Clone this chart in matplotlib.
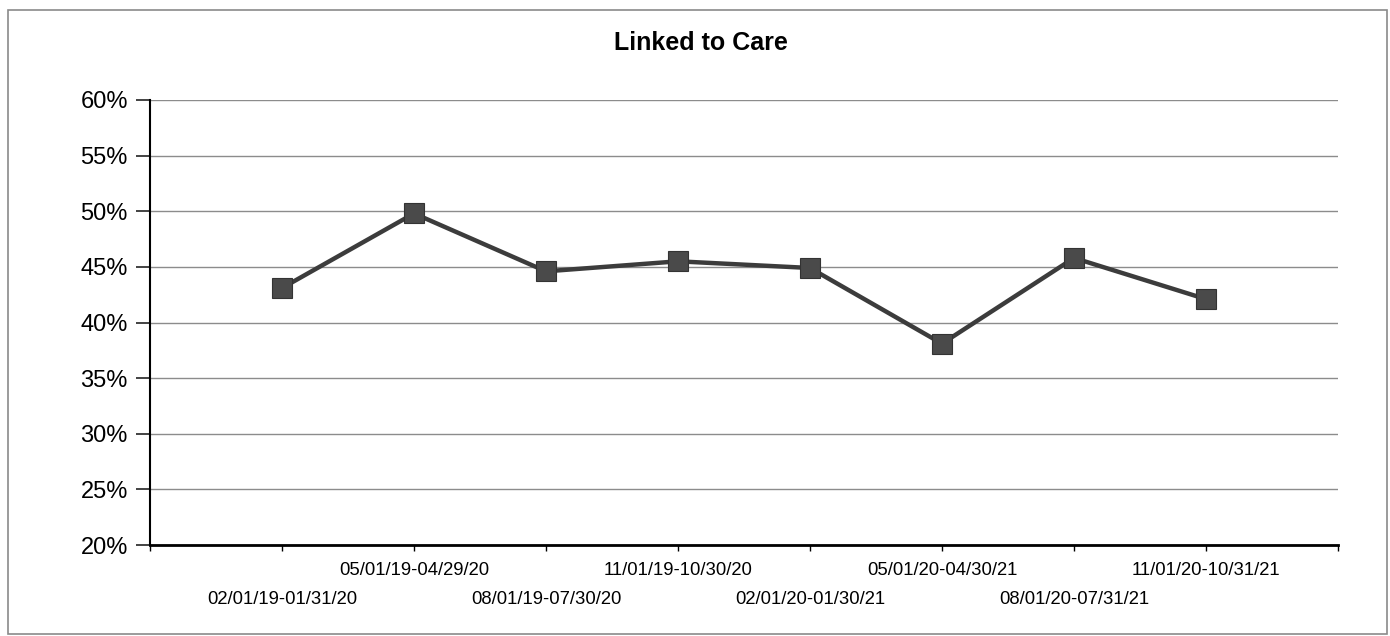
import matplotlib
matplotlib.use("Agg")
import matplotlib.pyplot as plt
from matplotlib.patches import Rectangle
from matplotlib.ticker import FixedLocator, FuncFormatter

plt.rcParams['font.family'] = ['Liberation Sans', 'DejaVu Sans']

title = "Linked to Care"
periods = ["02/01/19-01/31/20", "05/01/19-04/29/20", "08/01/19-07/30/20",
           "11/01/19-10/30/20", "02/01/20-01/30/21", "05/01/20-04/30/21",
           "08/01/20-07/31/21", "11/01/20-10/31/21"]
values = [43.1, 49.8, 44.6, 45.5, 44.9, 38.1, 45.8, 42.1]
y_ticks = [20, 25, 30, 35, 40, 45, 50, 55, 60]

fig = plt.figure(figsize=(13.9, 6.36), dpi=100)
ax = fig.add_axes([150/1390, 1-545/636, (1338-150)/1390, (545-100)/636])

x = list(range(1, len(periods) + 1))
ax.plot(x, values, color='#3c3c3c', lw=3.2, marker='s', markersize=14.5,
        markerfacecolor='#4a4a4a', markeredgecolor='#333333', markeredgewidth=0.8,
        zorder=3)

ax.set_xlim(0, len(periods) + 1)
ax.set_ylim(y_ticks[0], y_ticks[-1])
ax.set_yticks(y_ticks)
ax.yaxis.set_major_formatter(FuncFormatter(lambda v, p: f"{v:.0f}%"))
ax.grid(axis='y', color='#8c8c8c', lw=1.0, zorder=0)
ax.set_axisbelow(True)

# x ticks: marks at category boundaries; labels staggered
major_pos = list(range(0, len(periods) + 2))
major_labels = []
for p in major_pos:
    if 1 <= p <= len(periods) and p % 2 == 0:
        major_labels.append(periods[p - 1])
    else:
        major_labels.append("")
ax.xaxis.set_major_locator(FixedLocator(major_pos))
ax.set_xticklabels(major_labels)
minor_pos = [p for p in x if p % 2 == 1]
ax.xaxis.remove_overlapping_locs = False
ax.xaxis.set_minor_locator(FixedLocator(minor_pos))
ax.set_xticklabels([periods[p - 1] for p in minor_pos], minor=True)

ax.tick_params(axis='x', which='major', length=4, width=1, color='black',
               labelsize=13.3, pad=8)
ax.tick_params(axis='x', which='minor', length=0, labelsize=13.3, pad=33)
ax.tick_params(axis='y', which='major', length=10, width=1.2, color='#222222',
               labelsize=17, pad=6)

for s in ['top', 'right']:
    ax.spines[s].set_visible(False)
ax.spines['left'].set_linewidth(1.5)
ax.spines['bottom'].set_linewidth(2.0)

fig.text(0.504, 1-43/636, title, ha='center', va='center',
         fontsize=18, fontweight='bold')

fig.patches.append(Rectangle((8/1390, 1-634/636), (1387-8)/1390, (634-10)/636,
                             transform=fig.transFigure, fill=False,
                             edgecolor='#8a8a8a', lw=1.2))

fig.savefig("out.png", dpi=100)
